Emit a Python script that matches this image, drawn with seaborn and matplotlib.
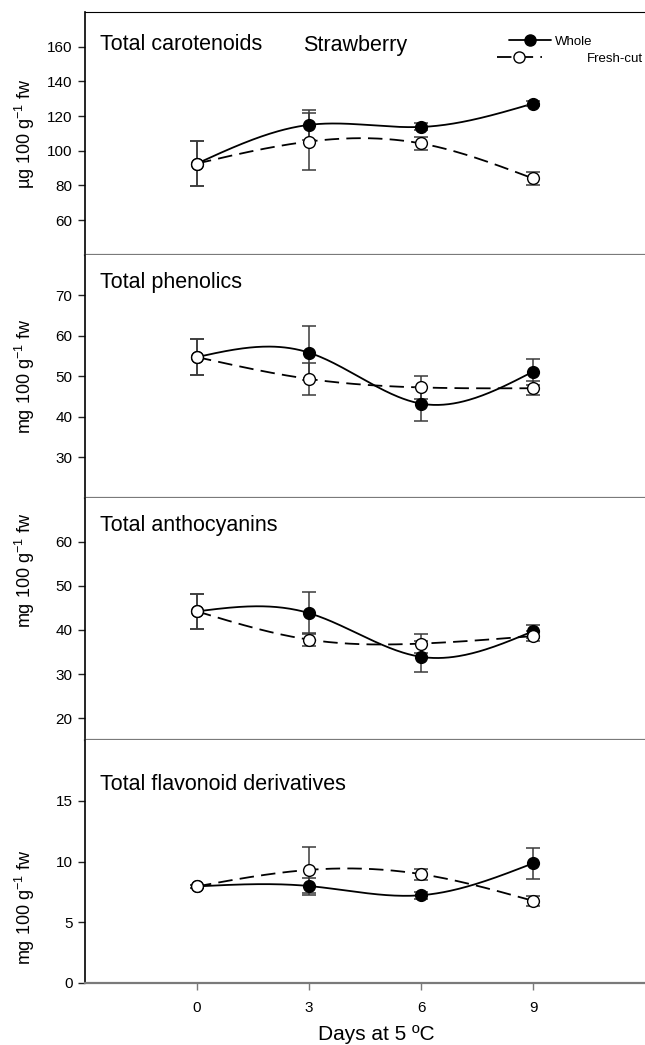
import numpy as np
import matplotlib
matplotlib.use("Agg")
import matplotlib.pyplot as plt
import seaborn as sns
from matplotlib.lines import Line2D

days = [0, 3, 6, 9]

car_whole = [92.6, 114.9, 113.7, 127.2]
car_whole_err = [13.0, 8.6, 2.0, 1.2]
car_fresh = [92.6, 105.3, 104.2, 84.0]
car_fresh_err = [13.0, 16.2, 3.6, 3.9]

phe_whole = [54.7, 55.8, 43.2, 51.1]
phe_whole_err = [4.4, 6.7, 4.2, 3.2]
phe_fresh = [54.7, 49.3, 47.2, 47.0]
phe_fresh_err = [4.4, 3.9, 2.9, 1.7]

ant_whole = [44.2, 43.8, 33.9, 39.7]
ant_whole_err = [3.9, 4.7, 3.5, 1.5]
ant_fresh = [44.2, 37.8, 36.9, 38.6]
ant_fresh_err = [3.9, 1.4, 2.1, 1.2]

fla_whole = [7.96, 7.99, 7.23, 9.86]
fla_whole_err = [0.1, 0.7, 0.3, 1.27]
fla_fresh = [7.96, 9.32, 8.97, 6.77]
fla_fresh_err = [0.1, 1.9, 0.45, 0.4]

titles = ["Total carotenoids", "Total phenolics", "Total anthocyanins", "Total flavonoid derivatives"]
ylabels = ["µg 100 g$^{-1}$ fw", "mg 100 g$^{-1}$ fw", "mg 100 g$^{-1}$ fw", "mg 100 g$^{-1}$ fw"]
ylims = [(40, 180), (20, 80), (15, 70), (0, 20)]
yticks = [[60, 80, 100, 120, 140, 160], [30, 40, 50, 60, 70], [20, 30, 40, 50, 60], [0, 5, 10, 15]]

sns.set_style("white")
plt.rcParams['font.family'] = ['Liberation Sans', 'DejaVu Sans']
plt.rcParams['mathtext.fontset'] = 'custom'
plt.rcParams['mathtext.rm'] = 'Liberation Sans'
plt.rcParams['mathtext.it'] = 'Liberation Sans:italic'
plt.rcParams['mathtext.bf'] = 'Liberation Sans:bold'
plt.rcParams['text.color'] = 'black'
plt.rcParams['axes.labelcolor'] = 'black'
plt.rcParams['xtick.color'] = 'black'
plt.rcParams['ytick.color'] = 'black'


def smooth(x, y, n=200):
    # natural cubic spline, like the SigmaPlot spline line
    x = np.asarray(x, float)
    y = np.asarray(y, float)
    h = np.diff(x)
    k = len(x)
    A = np.zeros((k, k))
    b = np.zeros(k)
    A[0, 0] = A[-1, -1] = 1
    for i in range(1, k - 1):
        A[i, i - 1] = h[i - 1]
        A[i, i] = 2 * (h[i - 1] + h[i])
        A[i, i + 1] = h[i]
        b[i] = 6 * ((y[i + 1] - y[i]) / h[i] - (y[i] - y[i - 1]) / h[i - 1])
    M = np.linalg.solve(A, b)
    xs = np.linspace(x[0], x[-1], n)
    idx = np.clip(np.searchsorted(x, xs) - 1, 0, k - 2)
    x0, x1 = x[idx], x[idx + 1]
    hh = x1 - x0
    ys = (M[idx] * (x1 - xs) ** 3 / (6 * hh) + M[idx + 1] * (xs - x0) ** 3 / (6 * hh)
          + (y[idx] / hh - M[idx] * hh / 6) * (x1 - xs)
          + (y[idx + 1] / hh - M[idx + 1] * hh / 6) * (xs - x0))
    return xs, ys


panels = [
    (car_whole, car_whole_err, car_fresh, car_fresh_err),
    (phe_whole, phe_whole_err, phe_fresh, phe_fresh_err),
    (ant_whole, ant_whole_err, ant_fresh, ant_fresh_err),
    (fla_whole, fla_whole_err, fla_fresh, fla_fresh_err),
]

W, H = 645, 1045
fig = plt.figure(figsize=(W / 100, H / 100), dpi=100)
top, bot, left = 12, 983, 85
ph = (bot - top) / 4
title_off = [33, 28, 28, 44]
ylab_y = [0.5, 0.5, 0.70, 0.31]
dash = (0, (8, 4))

axes = []
for i, (w, we, f, fe) in enumerate(panels):
    y0 = top + i * ph
    ax = fig.add_axes([left / W, 1 - (y0 + ph) / H, (W - left) / W, ph / H])
    axes.append(ax)

    xs, ys = smooth(days, w)
    sns.lineplot(x=xs, y=ys, ax=ax, color='black', lw=1.3, sort=False, estimator=None, zorder=2)
    xs, ys = smooth(days, f)
    sns.lineplot(x=xs, y=ys, ax=ax, color='black', lw=1.3, linestyle=dash, sort=False,
                 estimator=None, zorder=2)

    ax.errorbar(days, w, yerr=we, fmt='none', ecolor='#3a3a3a', elinewidth=1.1,
                capsize=5, capthick=1.1, zorder=3)
    ax.errorbar(days, f, yerr=fe, fmt='none', ecolor='#3a3a3a', elinewidth=1.1,
                capsize=5, capthick=1.1, zorder=3)
    sns.scatterplot(x=days, y=w, ax=ax, s=72, color='black', edgecolor='black',
                    linewidth=1, zorder=4)
    sns.scatterplot(x=days, y=f, ax=ax, s=72, color='white', edgecolor='black',
                    linewidth=1, zorder=5)

    ax.set_xlim(-3, 12)
    ax.set_ylim(*ylims[i])
    ax.set_yticks(yticks[i])
    ax.tick_params(axis='y', direction='out', length=5, width=1, color='#222222',
                   labelsize=11, pad=4, left=True)
    ax.spines['right'].set_visible(False)
    ax.spines['top'].set_visible(i == 0)
    ax.spines['top'].set_color('black')
    ax.spines['left'].set_color('black')
    ax.spines['left'].set_linewidth(1.2)
    ax.spines['bottom'].set_color('#7a7a7a')
    ax.spines['bottom'].set_linewidth(1.6)

    ax.set_ylabel(ylabels[i], fontsize=13)
    ax.yaxis.set_label_coords(-0.086, ylab_y[i])
    ax.text(0.027, 1 - title_off[i] / ph, titles[i], transform=ax.transAxes,
            fontsize=15.5, va='center', ha='left')

    if i < 3:
        ax.set_xticks([])
        ax.set_xlabel('')
    else:
        ax.set_xticks(days)
        ax.tick_params(axis='x', direction='out', length=5, width=1, color='#7a7a7a',
                       labelsize=11, pad=8, bottom=True)
        ax.set_xlabel('Days at 5 ºC', fontsize=15)
        ax.xaxis.set_label_coords(0.521, -0.175)
        ax.xaxis.label.set_va('top')

ax0 = axes[0]
ax0.text((303 - left) / (W - left), 1 - 33 / ph, 'Strawberry', transform=ax0.transAxes,
         fontsize=15.5, va='center', ha='left')

h_whole = Line2D([], [], color='black', lw=1.3, marker='o', markersize=8,
                 markerfacecolor='black', markeredgecolor='black')
h_fresh = Line2D([], [], color='black', lw=1.3, linestyle=dash, marker='o', markersize=8,
                 markerfacecolor='white', markeredgecolor='black')
leg1 = ax0.legend([h_whole], ['Whole'], loc='center left', frameon=False, fontsize=9.5,
                  bbox_to_anchor=((509 - left) / (W - left), 1 - (42 - top) / ph),
                  borderpad=0, borderaxespad=0, handlelength=3.2, handletextpad=0.3)
ax0.add_artist(leg1)
ax0.legend([h_fresh], ['Fresh-cut'], loc='center left', frameon=False, fontsize=9.5,
           bbox_to_anchor=((497 - left) / (W - left), 1 - (59 - top) / ph),
           borderpad=0, borderaxespad=0, handlelength=3.4, handletextpad=3.4)

fig.savefig('out.png', dpi=100)
